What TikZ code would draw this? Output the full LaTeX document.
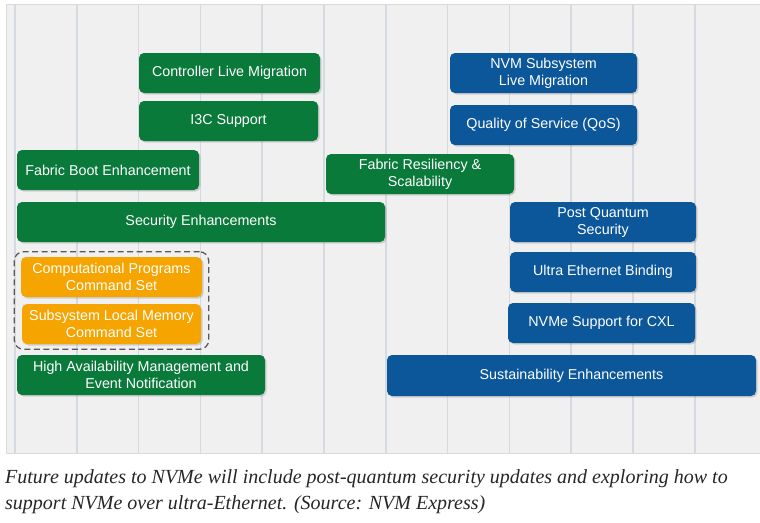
\documentclass[tikz,border=0pt]{standalone}
\usepackage{fontspec}
\setmainfont{Liberation Serif}
\setsansfont{Liberation Sans}
\usetikzlibrary{shadows,fit}
\definecolor{nvgreen}{HTML}{0A7A3B}
\definecolor{nvblue}{HTML}{0B579A}
\definecolor{nvorange}{HTML}{F5A400}
\definecolor{panelbg}{HTML}{F0F0F0}
\definecolor{panelline}{HTML}{DADADA}
\definecolor{gridgray}{HTML}{D4DAE0}
\tikzset{
  item/.style={rounded corners=5pt, text=white, align=center, inner sep=0pt,
    font=\sffamily\fontsize{14.3}{17}\selectfont, minimum height=40pt,
    drop shadow={opacity=0.3, shadow xshift=1.5pt, shadow yshift=-1.5pt}},
  greenitem/.style={item, fill=nvgreen},
  blueitem/.style={item, fill=nvblue},
  orangeitem/.style={item, fill=nvorange},
  caption/.style={anchor=base west, inner sep=0pt, font=\itshape\fontsize{20}{26}\selectfont, text=black!85},
}
\begin{document}
\begin{tikzpicture}[x=1pt,y=-1pt]
  \useasboundingbox (0,0) rectangle (760,522);
  % background panel and grid
  \draw[fill=panelbg, draw=panelline] (6,4) rectangle (760,453);
  \foreach \k in {0,...,11}
    \draw[gridgray, line width=1.5pt] ({15+61.8*\k},4.5) -- ({15+61.8*\k},452.5);
  % green items
  \node[greenitem, minimum width=181pt] (clm) at (229.5,73) {Controller Live Migration};
  \node[greenitem, minimum width=179pt] (i3c) at (228.5,121) {I3C Support};
  \node[greenitem, minimum width=182pt] (fbe) at (108,170) {Fabric Boot Enhancement};
  \node[greenitem, minimum width=188pt] (frs) at (420,174) {Fabric Resiliency \&\\Scalability};
  \node[greenitem, minimum width=368pt] (sec) at (201,222) {Security Enhancements};
  \node[greenitem, minimum width=248pt] (ham) at (141,375) {High Availability Management and\\Event Notification};
  % orange items
  \node[orangeitem, minimum width=181pt] (cps) at (111.5,277) {Computational Programs\\Command Set};
  \node[orangeitem, minimum width=179pt] (slm) at (111.5,324) {Subsystem Local Memory\\Command Set};
  \node[draw=black!65, line width=1.3pt, dash pattern=on 6pt off 3.5pt, rounded corners=9pt,
    inner xsep=6.5pt, inner ysep=5pt, fit=(cps)(slm)] (grp) {};
  % blue items
  \node[blueitem, minimum width=187pt] (nvmlm) at (543.5,73) {NVM Subsystem\\Live Migration};
  \node[blueitem, minimum width=187pt] (qos) at (543.5,125) {Quality of Service (QoS)};
  \node[blueitem, minimum width=186pt] (pqs) at (603,222) {Post Quantum\\Security};
  \node[blueitem, minimum width=186pt] (ueb) at (603,272) {Ultra Ethernet Binding};
  \node[blueitem, minimum width=187pt] (cxl) at (601.5,323) {NVMe Support for CXL};
  \node[blueitem, minimum width=369pt, minimum height=41pt] (sus) at (571.5,375.5) {Sustainability Enhancements};
  % caption
  \node[caption] (cap1) at (5,483) {Future updates to NVMe will include post-quantum security updates and exploring how to};
  \node[caption] (cap2) at (5,509) {support NVMe over ultra-Ethernet. (Source: NVM Express)};
\end{tikzpicture}
\end{document}
